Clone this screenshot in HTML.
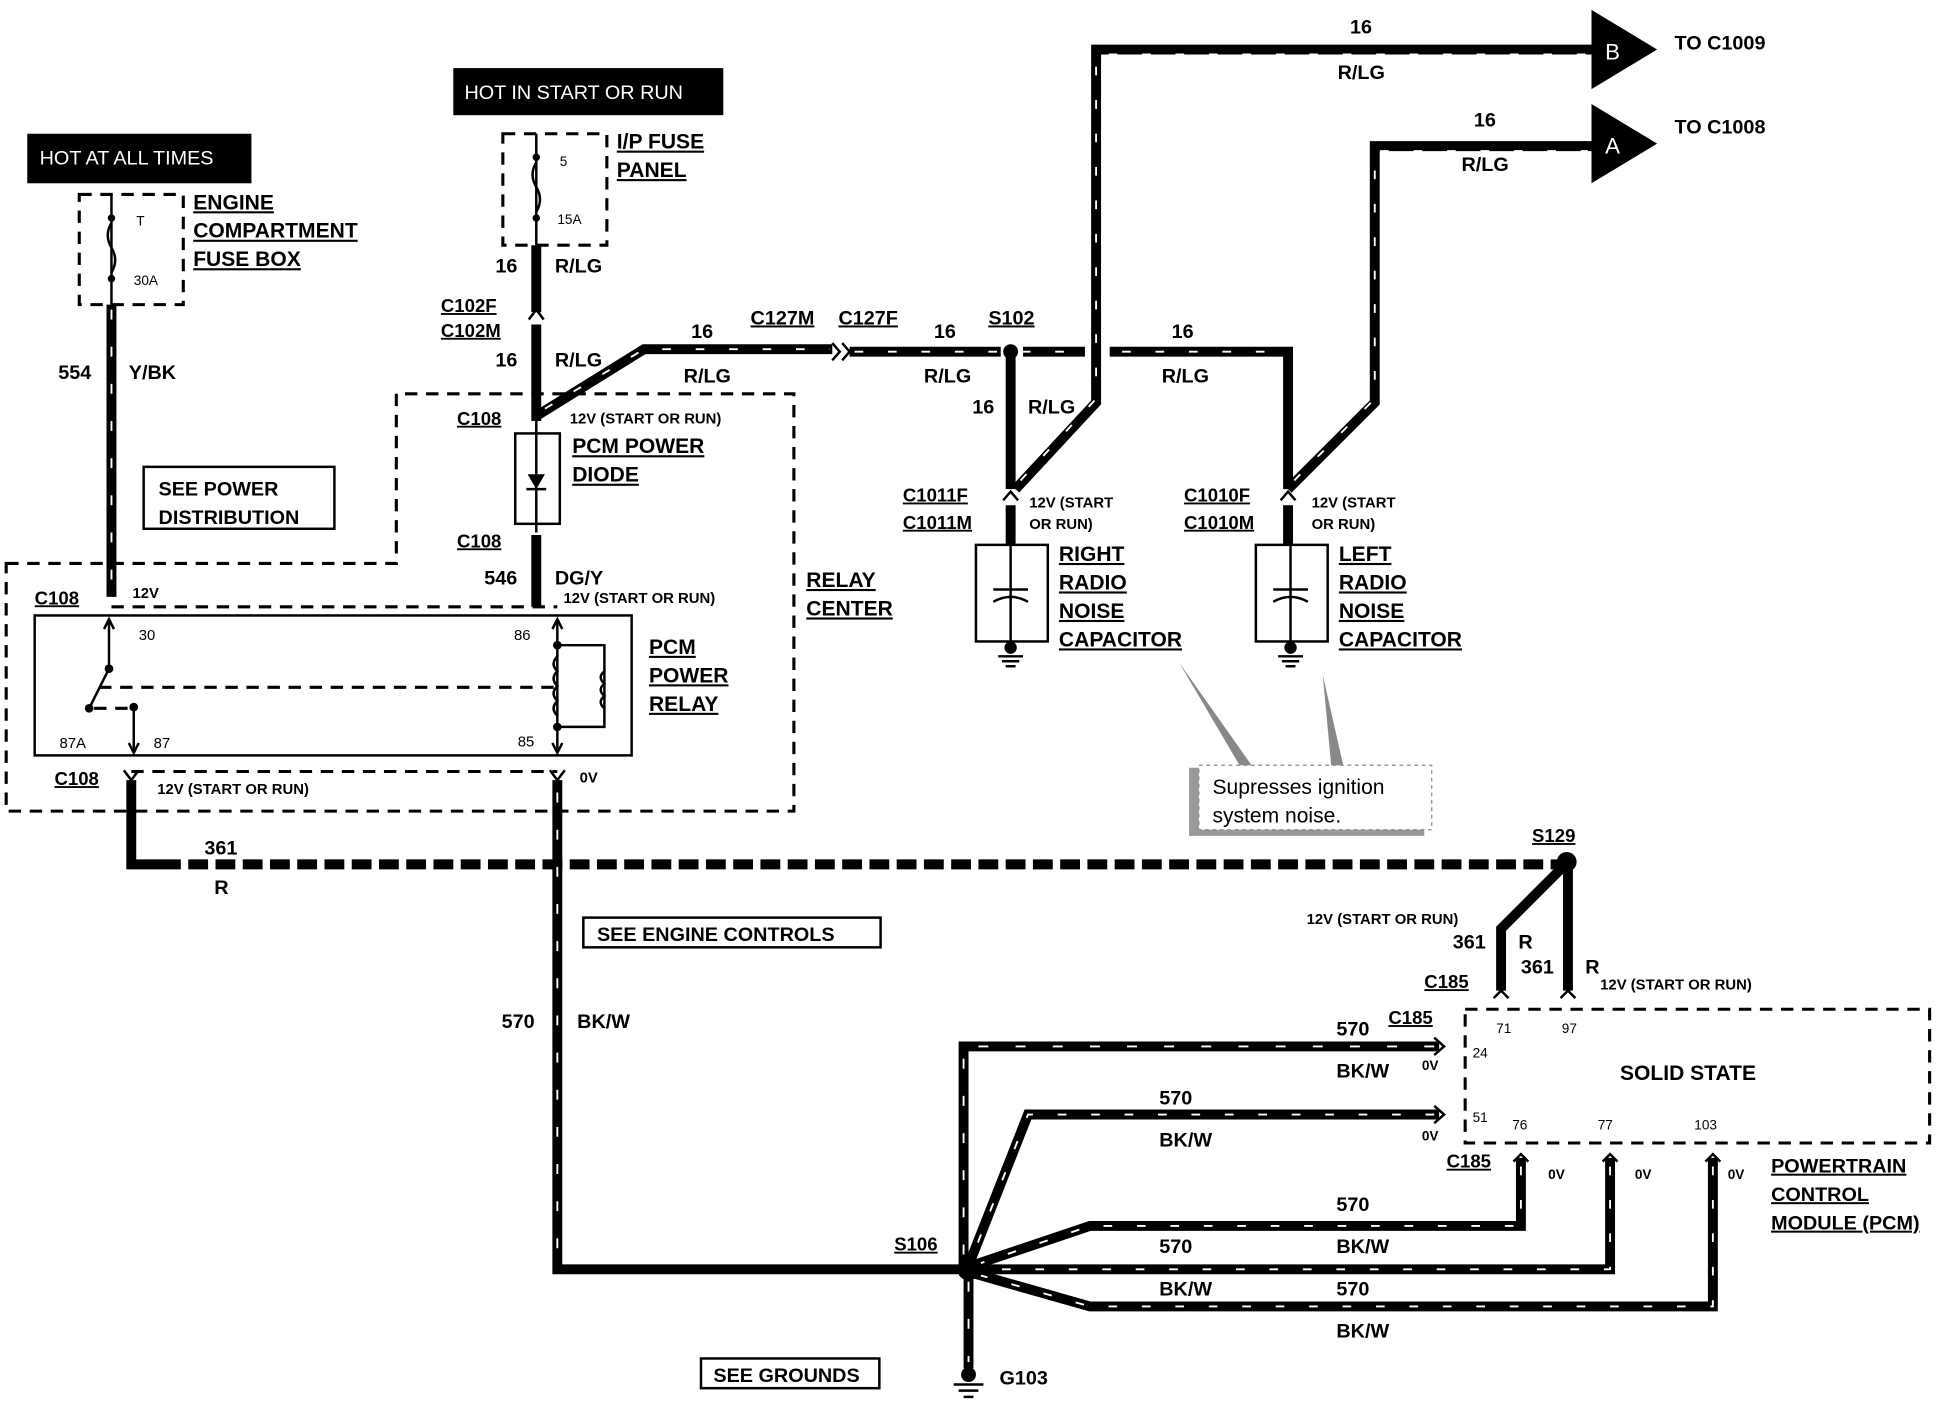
<!DOCTYPE html>
<html><head><meta charset="utf-8"><style>
html,body{margin:0;padding:0;background:#fff;}
svg{display:block;}
text{font-family:"Liberation Sans",Arial,sans-serif;font-weight:bold;fill:#000;}
.w{fill:none;stroke:#000;stroke-width:8;stroke-linejoin:miter;}
.d{fill:none;stroke:#fff;stroke-width:1.5;stroke-dasharray:7 20;}
.dv{fill:none;stroke:#fff;stroke-width:1.5;stroke-dasharray:8 22;}
.bd{fill:none;stroke:#000;stroke-width:8;stroke-dasharray:16 6;}
.db{fill:none;stroke:#000;stroke-width:2.5;stroke-dasharray:10 7;}
.t{fill:none;stroke:#000;stroke-width:2;}
.u{text-decoration:underline;}
</style></head><body>
<svg width="1942" height="1408" viewBox="0 0 1568 1137" preserveAspectRatio="none" xmlns="http://www.w3.org/2000/svg">
<rect x="22" y="108" width="181" height="40" fill="#000"/>
<text x="32" y="133" font-size="16" style="fill:#fff;font-weight:normal">HOT AT ALL TIMES</text>
<rect x="366" y="55" width="218" height="38" fill="#000"/>
<text x="375" y="80" font-size="16" style="fill:#fff;font-weight:normal">HOT IN START OR RUN</text>
<rect x="64" y="157" width="84" height="89" class="db"/>
<line x1="90" y1="157" x2="90" y2="246" class="t"/>
<circle cx="90" cy="176" r="3"/><circle cx="90" cy="225" r="3"/>
<path d="M90 180 q-6 10 0 20 q6 10 0 20" class="t" fill="#fff"/>
<text x="110" y="182" font-size="11" style="font-weight:normal">T</text>
<text x="108" y="230" font-size="11" style="font-weight:normal">30A</text>
<text x="156" y="169" font-size="17" class="u">ENGINE</text>
<text x="156" y="192" font-size="17" class="u">COMPARTMENT</text>
<text x="156" y="215" font-size="17" class="u">FUSE BOX</text>
<rect x="406" y="108" width="84" height="90" class="db"/>
<line x1="433" y1="108" x2="433" y2="198" class="t"/>
<circle cx="433" cy="127" r="3"/><circle cx="433" cy="176" r="3"/>
<path d="M433 131 q-6 10 0 20 q6 10 0 20" class="t"/>
<text x="452" y="134" font-size="11" style="font-weight:normal">5</text>
<text x="450" y="181" font-size="11" style="font-weight:normal">15A</text>
<text x="498" y="120" font-size="17" class="u">I/P FUSE</text>
<text x="498" y="143" font-size="17" class="u">PANEL</text>
<path d="M90 246 V482" class="w"/><path d="M90 250 V480" class="dv"/>
<text x="47" y="306" font-size="16">554</text><text x="104" y="306" font-size="16">Y/BK</text>
<path d="M5 455 H320 V318 H641 V655 H5 Z" class="db"/>
<rect x="116" y="377" width="154" height="50" class="t"/>
<text x="128" y="400" font-size="16">SEE POWER</text>
<text x="128" y="423" font-size="16">DISTRIBUTION</text>
<text x="651" y="474" font-size="17" class="u">RELAY</text>
<text x="651" y="497" font-size="17" class="u">CENTER</text>
<path d="M433 198 V252" class="w"/>
<path d="M427 258 L433 250 L439 258" class="t" stroke-width="3"/>
<path d="M433 262 V340" class="w"/>
<text x="400" y="220" font-size="16">16</text><text x="448" y="220" font-size="16">R/LG</text>
<text x="356" y="252" font-size="15" class="u">C102F</text>
<text x="356" y="272" font-size="15" class="u">C102M</text>
<text x="400" y="296" font-size="16">16</text><text x="448" y="296" font-size="16">R/LG</text>
<text x="369" y="343" font-size="15" class="u">C108</text>
<text x="460" y="342" font-size="12">12V (START OR RUN)</text>
<rect x="416" y="350" width="36" height="73" class="t" stroke-width="3"/>
<line x1="433" y1="340" x2="433" y2="430" class="t" stroke-width="3"/>
<path d="M426 383 H440 L433 395 Z"/><line x1="425" y1="395" x2="441" y2="395" class="t"/>
<text x="462" y="366" font-size="17" class="u">PCM POWER</text>
<text x="462" y="389" font-size="17" class="u">DIODE</text>
<text x="369" y="442" font-size="15" class="u">C108</text>
<path d="M433 432 V490" class="w"/>
<text x="391" y="472" font-size="16">546</text><text x="448" y="472" font-size="16">DG/Y</text>
<text x="455" y="487" font-size="12">12V (START OR RUN)</text>
<text x="28" y="488" font-size="15" class="u">C108</text>
<text x="107" y="483" font-size="12">12V</text>
<line x1="90" y1="490" x2="450" y2="490" class="db"/>
<rect x="28" y="497" width="482" height="113" class="t" stroke-width="4"/>
<line x1="88" y1="500" x2="88" y2="540" class="t"/><path d="M84 508 L88 500 L92 508" class="t"/>
<circle cx="88" cy="540" r="3.5"/><line x1="88" y1="540" x2="72" y2="572" class="t"/>
<circle cx="72" cy="572" r="3.5"/><line x1="76" y1="572" x2="106" y2="572" class="db" stroke-width="2"/>
<circle cx="108" cy="571" r="3.5"/><line x1="108" y1="571" x2="108" y2="608" class="t"/>
<path d="M104 600 L108 608 L112 600" class="t"/>
<line x1="80" y1="555" x2="448" y2="555" class="db" stroke-width="1.5"/>
<line x1="450" y1="500" x2="450" y2="608" class="t"/>
<path d="M446 508 L450 500 L454 508" class="t"/><path d="M446 600 L450 608 L454 600" class="t"/>
<circle cx="450" cy="521" r="3.5"/><circle cx="450" cy="587" r="3.5"/>
<path d="M450 521 H488 V587 H450" class="t"/>
<path d="M488 542 q-6 5 0 10 q-6 5 0 10 q-6 5 0 10" class="t" fill="#fff"/>
<path d="M450 530 q-6 6 0 12 q-6 6 0 12 q-6 6 0 12 q-6 6 0 12" class="t" fill="#fff"/>
<text x="112" y="517" font-size="12" style="font-weight:normal">30</text>
<text x="415" y="517" font-size="12" style="font-weight:normal">86</text>
<text x="48" y="604" font-size="12" style="font-weight:normal">87A</text>
<text x="124" y="604" font-size="12" style="font-weight:normal">87</text>
<text x="418" y="603" font-size="12" style="font-weight:normal">85</text>
<text x="524" y="528" font-size="17" class="u">PCM</text>
<text x="524" y="551" font-size="17" class="u">POWER</text>
<text x="524" y="574" font-size="17" class="u">RELAY</text>
<text x="44" y="634" font-size="15" class="u">C108</text>
<line x1="106" y1="623" x2="450" y2="623" class="db"/>
<text x="127" y="641" font-size="12">12V (START OR RUN)</text>
<text x="468" y="632" font-size="12">0V</text>
<path d="M100 622 L106 630 L112 622" class="t" stroke-width="3"/>
<path d="M444 622 L450 630 L456 622" class="t" stroke-width="3"/>
<path d="M106 630 V698 H130" class="w"/>
<path d="M130 698 H1262" class="bd"/>
<text x="165" y="690" font-size="16">361</text><text x="173" y="722" font-size="16">R</text>
<path d="M450 630 V1025 H782" class="w"/><path d="M450 640 V1020 H780" class="dv"/>
<rect x="471" y="741" width="240" height="24" class="t"/>
<text x="482" y="760" font-size="16">SEE ENGINE CONTROLS</text>
<text x="405" y="830" font-size="16">570</text><text x="466" y="830" font-size="16">BK/W</text>
<path d="M433 336 L520 282 H672" class="w"/><path d="M440 330 L520 282 H670" class="d"/>
<path d="M672 277 L678 284 L672 291 M680 277 L686 284 L680 291" class="t" stroke-width="2.5"/>
<path d="M686 284 H1040 V395" class="w"/><path d="M690 284 H1036" class="d"/>
<line x1="808" y1="284" x2="826" y2="284" stroke="#fff" stroke-width="10"/>
<line x1="876" y1="284" x2="896" y2="284" stroke="#fff" stroke-width="10"/>
<circle cx="816" cy="284" r="6"/>
<text x="558" y="273" font-size="16">16</text><text x="552" y="309" font-size="16">R/LG</text>
<text x="606" y="262" font-size="16" class="u">C127M</text><text x="677" y="262" font-size="16" class="u">C127F</text>
<text x="754" y="273" font-size="16">16</text><text x="746" y="309" font-size="16">R/LG</text>
<text x="798" y="262" font-size="16" class="u">S102</text>
<text x="946" y="273" font-size="16">16</text><text x="938" y="309" font-size="16">R/LG</text>
<path d="M816 284 V395" class="w"/>
<text x="785" y="334" font-size="16">16</text><text x="830" y="334" font-size="16">R/LG</text>
<path d="M820 395 L885 325 V40 H1285" class="w"/><path d="M824 388 L885 322 V44 H1282" class="d"/>
<path d="M1285 8 L1338 40 L1285 72 Z"/><text x="1296" y="48" font-size="18" style="fill:#fff;font-weight:normal">B</text>
<text x="1352" y="40" font-size="16">TO C1009</text>
<text x="1090" y="27" font-size="16">16</text><text x="1080" y="64" font-size="16">R/LG</text>
<path d="M1040 395 L1110 325 V118 H1285" class="w"/><path d="M1045 388 L1110 322 V122 H1282" class="d"/>
<path d="M1285 84 L1338 116 L1285 148 Z"/><text x="1296" y="124" font-size="18" style="fill:#fff;font-weight:normal">A</text>
<text x="1352" y="108" font-size="16">TO C1008</text>
<text x="1190" y="102" font-size="16">16</text><text x="1180" y="138" font-size="16">R/LG</text>
<path d="M810 404 L816 397 L822 404" class="t" stroke-width="3"/>
<path d="M816 408 V440" class="w"/>
<rect x="788" y="440" width="58" height="78" class="t" stroke-width="4"/>
<line x1="816" y1="440" x2="816" y2="518" class="t"/>
<line x1="802" y1="476" x2="830" y2="476" class="t" stroke-width="3"/><path d="M802 486 q14 -8 28 0" class="t" stroke-width="3"/>
<circle cx="816" cy="523" r="5"/><path d="M806 530 H826 M809 534 H823 M812 538 H820" class="t"/>
<text x="729" y="405" font-size="15" class="u">C1011F</text><text x="729" y="427" font-size="15" class="u">C1011M</text>
<text x="831" y="410" font-size="12">12V (START</text><text x="831" y="427" font-size="12">OR RUN)</text>
<text x="855" y="453" font-size="17" class="u">RIGHT</text><text x="855" y="476" font-size="17" class="u">RADIO</text>
<text x="855" y="499" font-size="17" class="u">NOISE</text><text x="855" y="522" font-size="17" class="u">CAPACITOR</text>
<path d="M1034 404 L1040 397 L1046 404" class="t" stroke-width="3"/>
<path d="M1040 408 V440" class="w"/>
<rect x="1014" y="440" width="58" height="78" class="t" stroke-width="4"/>
<line x1="1042" y1="440" x2="1042" y2="518" class="t"/>
<line x1="1028" y1="476" x2="1056" y2="476" class="t" stroke-width="3"/><path d="M1028 486 q14 -8 28 0" class="t" stroke-width="3"/>
<circle cx="1042" cy="523" r="5"/><path d="M1032 530 H1052 M1035 534 H1049 M1038 538 H1046" class="t"/>
<text x="956" y="405" font-size="15" class="u">C1010F</text><text x="956" y="427" font-size="15" class="u">C1010M</text>
<text x="1059" y="410" font-size="12">12V (START</text><text x="1059" y="427" font-size="12">OR RUN)</text>
<text x="1081" y="453" font-size="17" class="u">LEFT</text><text x="1081" y="476" font-size="17" class="u">RADIO</text>
<text x="1081" y="499" font-size="17" class="u">NOISE</text><text x="1081" y="522" font-size="17" class="u">CAPACITOR</text>
<path d="M952 535 L1012 620 L1002 620 Z" fill="#888"/>
<path d="M1068 545 L1085 620 L1075 620 Z" fill="#888"/>
<rect x="960" y="620" width="190" height="55" fill="#999"/>
<rect x="968" y="618" width="188" height="52" fill="#fff" stroke="#888" stroke-dasharray="3 3"/>
<text x="979" y="641" font-size="17" style="font-weight:normal">Supresses ignition</text>
<text x="979" y="664" font-size="17" style="font-weight:normal">system noise.</text>
<circle cx="1265" cy="696" r="8"/>
<text x="1237" y="680" font-size="15" class="u">S129</text>
<path d="M1262 700 L1212 750 V800 M1266 700 V800" class="w"/>
<text x="1055" y="746" font-size="12">12V (START OR RUN)</text>
<text x="1173" y="766" font-size="16">361</text><text x="1226" y="766" font-size="16">R</text>
<text x="1228" y="786" font-size="16">361</text><text x="1280" y="786" font-size="16">R</text>
<text x="1292" y="799" font-size="12">12V (START OR RUN)</text>
<text x="1150" y="798" font-size="15" class="u">C185</text>
<path d="M1206 806 L1212 800 L1218 806 M1260 806 L1266 800 L1272 806" class="t" stroke-width="3"/>
<rect x="1183" y="815" width="375" height="108" class="db"/>
<text x="1308" y="872" font-size="17">SOLID STATE</text>
<text x="1208" y="834" font-size="11" style="font-weight:normal">71</text><text x="1261" y="834" font-size="11" style="font-weight:normal">97</text>
<text x="1189" y="854" font-size="11" style="font-weight:normal">24</text><text x="1189" y="906" font-size="11" style="font-weight:normal">51</text>
<text x="1221" y="912" font-size="11" style="font-weight:normal">76</text><text x="1290" y="912" font-size="11" style="font-weight:normal">77</text>
<text x="1368" y="912" font-size="11" style="font-weight:normal">103</text>
<text x="1121" y="827" font-size="15" class="u">C185</text>
<text x="1168" y="943" font-size="15" class="u">C185</text>
<text x="1430" y="947" font-size="16" class="u">POWERTRAIN</text>
<text x="1430" y="970" font-size="16" class="u">CONTROL</text>
<text x="1430" y="993" font-size="16" class="u">MODULE (PCM)</text>
<text x="1148" y="864" font-size="11">0V</text><text x="1148" y="921" font-size="11">0V</text>
<text x="1250" y="952" font-size="11">0V</text><text x="1320" y="952" font-size="11">0V</text><text x="1395" y="952" font-size="11">0V</text>
<path d="M1162 845 H778 V1025" class="w"/><path d="M1158 845 H778 V1020" class="dv"/>
<path d="M1162 900 H830 L782 1022" class="w"/><path d="M1158 900 H830 L785 1015" class="d"/>
<path d="M1228 935 V990 H880 L785 1022" class="w"/><path d="M1228 942 V990 H880 L792 1020" class="d"/>
<path d="M1300 935 V1025 H790" class="w"/><path d="M1300 942 V1025 H795" class="d"/>
<path d="M1383 935 V1055 H880 L785 1028" class="w"/><path d="M1383 942 V1055 H880 L792 1030" class="d"/>
<path d="M1158 838 L1166 845 L1158 852 M1158 893 L1166 900 L1158 907" class="t" stroke-width="2.5"/>
<path d="M1222 938 L1228 932 L1234 938 M1294 938 L1300 932 L1306 938 M1377 938 L1383 932 L1389 938" class="t" stroke-width="2.5"/>
<text x="1079" y="836" font-size="16">570</text><text x="1079" y="870" font-size="16">BK/W</text>
<text x="936" y="892" font-size="16">570</text><text x="936" y="926" font-size="16">BK/W</text>
<text x="1079" y="978" font-size="16">570</text><text x="1079" y="1012" font-size="16">BK/W</text>
<text x="936" y="1012" font-size="16">570</text><text x="936" y="1046" font-size="16">BK/W</text>
<text x="1079" y="1046" font-size="16">570</text><text x="1079" y="1080" font-size="16">BK/W</text>
<circle cx="782" cy="1025" r="9"/>
<text x="722" y="1010" font-size="15" class="u">S106</text>
<path d="M782 1030 V1105" class="w"/><path d="M782 1035 V1100" class="dv"/>
<circle cx="782" cy="1110" r="6"/><path d="M770 1118 H794 M774 1123 H790 M778 1128 H786" class="t"/>
<text x="807" y="1118" font-size="16">G103</text>
<rect x="566" y="1097" width="144" height="24" class="t"/>
<text x="576" y="1116" font-size="16">SEE GROUNDS</text>
</svg>
</body></html>
